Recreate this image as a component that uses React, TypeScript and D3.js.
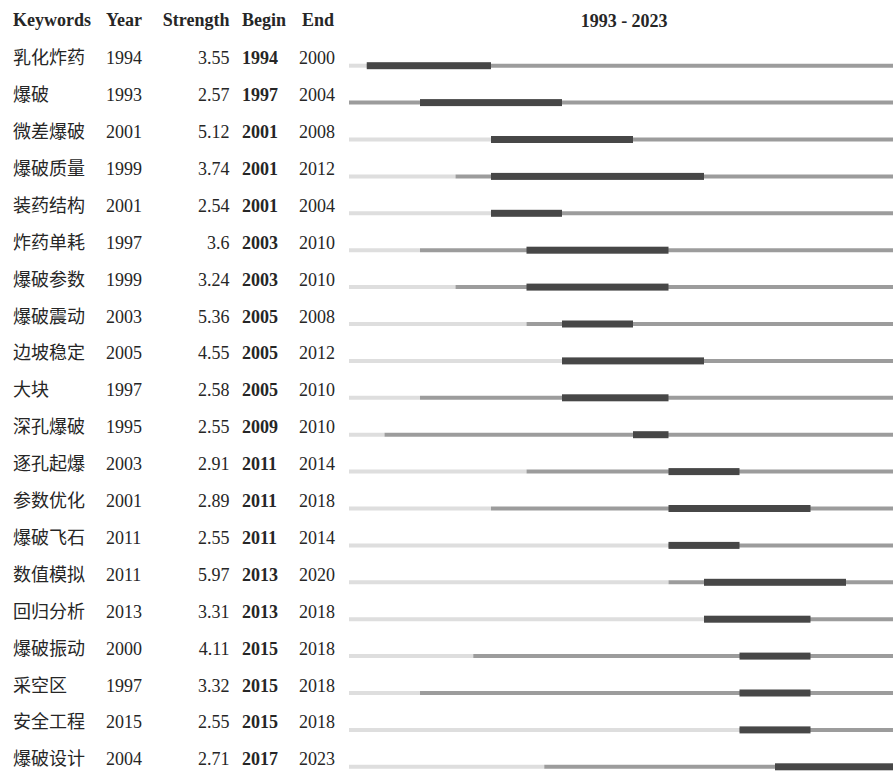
import React, { useEffect, useRef } from 'react';
import * as d3 from 'd3';

const keywords = ['乳化炸药', '爆破', '微差爆破', '爆破质量', '装药结构', '炸药单耗', '爆破参数', '爆破震动', '边坡稳定', '大块',
  '深孔爆破', '逐孔起爆', '参数优化', '爆破飞石', '数值模拟', '回归分析', '爆破振动', '采空区', '安全工程', '爆破设计'];
const years = [1994, 1993, 2001, 1999, 2001, 1997, 1999, 2003, 2005, 1997, 1995, 2003, 2001, 2011, 2011, 2013, 2000, 1997, 2015, 2004];
const strengths = ['3.55', '2.57', '5.12', '3.74', '2.54', '3.6', '3.24', '5.36', '4.55', '2.58', '2.55', '2.91', '2.89', '2.55', '5.97', '3.31', '4.11', '3.32', '2.55', '2.71'];
const begins = [1994, 1997, 2001, 2001, 2001, 2003, 2003, 2005, 2005, 2005, 2009, 2011, 2011, 2011, 2013, 2013, 2015, 2015, 2015, 2017];
const ends = [2000, 2004, 2008, 2012, 2004, 2010, 2010, 2008, 2012, 2010, 2010, 2014, 2018, 2014, 2020, 2018, 2018, 2018, 2018, 2023];
const startYear = 1993;
const endYear = 2023;

function drawBursts(svgEl: SVGSVGElement) {
  const svg = d3.select(svgEl);
  svg.selectAll('*').remove();

  const w = 893;
  const h = 771;
  svg.attr('width', w).attr('height', h);
  svg.append('rect').attr('width', w).attr('height', h).attr('fill', '#fff');

  const x = d3.scaleLinear().domain([startYear, endYear + 1]).range([349, 899.25]);
  const y = d3.scaleLinear().domain([0, 1]).range([65.7, 102.6]);

  const serif = '"Liberation Serif", "Times New Roman", serif';
  const cjk = '"Noto Sans CJK SC", sans-serif';
  const txt = '#262626';

  // header
  const head = svg.append('g').attr('font-family', serif).attr('font-weight', 'bold')
    .attr('font-size', 18).attr('fill', txt);
  head.append('text').attr('x', 13).attr('y', 26).text('Keywords');
  head.append('text').attr('x', 106).attr('y', 26).text('Year');
  head.append('text').attr('x', 229.5).attr('y', 26).attr('text-anchor', 'end').text('Strength');
  head.append('text').attr('x', 242).attr('y', 26).text('Begin');
  head.append('text').attr('x', 302).attr('y', 26).text('End');
  head.append('text').attr('x', (x(startYear) + x(endYear + 1)) / 2).attr('y', 27)
    .attr('text-anchor', 'middle').text(`${startYear} - ${endYear}`);

  const rows = svg.append('g');
  keywords.forEach((k, i) => {
    const cy = y(i);
    const base = cy - 1.5;
    const g = rows.append('g');
    g.append('text').attr('x', 13).attr('y', base).attr('font-family', cjk)
      .attr('font-size', 18).attr('fill', txt).text(k);
    const nums = g.append('g').attr('font-family', serif).attr('font-size', 18).attr('fill', txt);
    nums.append('text').attr('x', 106).attr('y', base).text(years[i]);
    nums.append('text').attr('x', 229.5).attr('y', base).attr('text-anchor', 'end').text(strengths[i]);
    nums.append('text').attr('x', 242).attr('y', base).attr('font-weight', 'bold').text(begins[i]);
    nums.append('text').attr('x', 299).attr('y', base).text(ends[i]);

    // before first appearance
    if (years[i] > startYear) {
      g.append('line').attr('x1', x(startYear)).attr('x2', x(years[i]))
        .attr('y1', cy).attr('y2', cy).attr('stroke', '#dedede').attr('stroke-width', 4);
    }
    // after first appearance
    g.append('line').attr('x1', x(years[i])).attr('x2', x(endYear + 1))
      .attr('y1', cy).attr('y2', cy).attr('stroke', '#9c9c9c').attr('stroke-width', 4);
    // burst
    g.append('rect').attr('x', x(begins[i])).attr('width', x(ends[i] + 1) - x(begins[i]))
      .attr('y', cy - 3.5).attr('height', 7).attr('fill', '#474747');
  });
}

export default function App() {
  const ref = useRef<SVGSVGElement>(null);
  useEffect(() => {
    if (ref.current) drawBursts(ref.current);
  }, []);
  return (
    <div style={{ position: 'absolute', left: 0, top: 0 }}>
      <svg ref={ref} style={{ display: 'block' }} />
    </div>
  );
}
